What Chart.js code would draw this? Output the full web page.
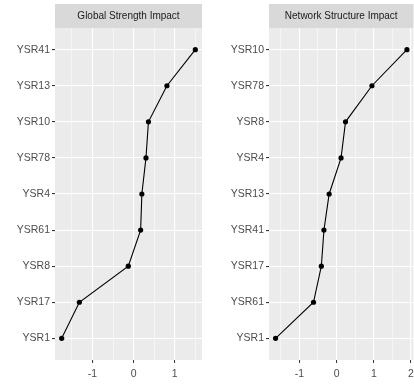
<!DOCTYPE html>
<html>
<head>
<meta charset="utf-8">
<script src="https://cdn.jsdelivr.net/npm/chart.js@4/dist/chart.umd.min.js"></script>
<style>
  html, body { margin: 0; padding: 0; background: #fff; overflow: hidden; width: 414px; height: 386px; }
  canvas { position: absolute; top: 0; }
  #gs { left: 0; }
  #ns { left: 207px; }
</style>
</head>
<body>
<canvas id="gs" width="206" height="386"></canvas>
<canvas id="ns" width="212" height="386"></canvas>
<script>
// categories listed bottom -> top
const gsLabels = ["YSR1", "YSR17", "YSR8", "YSR61", "YSR4", "YSR78", "YSR10", "YSR13", "YSR41"];
const gsValues = [-1.75, -1.32, -0.13, 0.17, 0.20, 0.30, 0.36, 0.81, 1.50];

const nsLabels = ["YSR1", "YSR61", "YSR17", "YSR41", "YSR13", "YSR4", "YSR8", "YSR78", "YSR10"];
const nsValues = [-1.64, -0.62, -0.41, -0.34, -0.20, 0.12, 0.24, 0.95, 1.89];

Chart.defaults.font.family = "'Liberation Sans', Arial, sans-serif";
Chart.defaults.font.size = 10.5;

// grey panel + facet strip, ggplot style
const panelPlugin = {
  id: "panel",
  beforeDraw(chart) {
    const { ctx, chartArea: a } = chart;
    ctx.save();
    ctx.fillStyle = "#EBEBEB";
    ctx.fillRect(a.left, a.top, a.right - a.left, a.bottom - a.top);
    ctx.restore();
  },
  afterDraw(chart, args, opts) {
    const { ctx, chartArea: a } = chart;
    ctx.save();
    ctx.fillStyle = "#D9D9D9";
    ctx.fillRect(a.left, 4, a.right - a.left, 24);
    ctx.fillStyle = "#1A1A1A";
    ctx.font = "10px 'Liberation Sans', Arial, sans-serif";
    ctx.textAlign = "center";
    ctx.textBaseline = "middle";
    ctx.fillText(opts.title, (a.left + a.right) / 2, 16.5);
    ctx.restore();
  }
};

function isInt(v) { return Math.abs(v - Math.round(v)) < 1e-6; }

function makePlot(id, title, labels, values, yWidth) {
  const lo = Math.min(...values), hi = Math.max(...values);
  const pad = (hi - lo) * 0.05;
  const xmin = lo - pad, xmax = hi + pad;

  new Chart(document.getElementById(id), {
    type: "line",
    data: {
      datasets: [{
        data: values.map((v, i) => ({ x: v, y: i })),
        borderColor: "#000",
        borderWidth: 1.1,
        pointRadius: 2.6,
        pointBackgroundColor: "#000",
        pointBorderWidth: 0,
        tension: 0
      }]
    },
    options: {
      responsive: false,
      animation: false,
      layout: { padding: { top: 28, right: 3, left: 0, bottom: 0 } },
      plugins: {
        legend: { display: false },
        tooltip: { enabled: false },
        panel: { title }
      },
      scales: {
        x: {
          type: "linear",
          min: xmin,
          max: xmax,
          afterBuildTicks: s => {
            const t = [];
            for (let v = Math.ceil(xmin * 2) / 2; v <= xmax; v += 0.5) t.push({ value: v });
            s.ticks = t;
          },
          afterFit: s => { s.height = 26; },
          border: { display: false },
          grid: {
            color: "#FFFFFF",
            lineWidth: c => (c.tick && isInt(c.tick.value) ? 1.1 : 0.5),
            tickColor: c => (c.tick && isInt(c.tick.value) ? "#333333" : "rgba(0,0,0,0)"),
            tickWidth: 1,
            tickLength: 3
          },
          ticks: {
            autoSkip: false,
            maxRotation: 0,
            color: "#4D4D4D",
            padding: 5,
            callback: v => (isInt(v) ? String(Math.round(v)) : "")
          }
        },
        y: {
          type: "linear",
          min: -0.6,
          max: labels.length - 0.4,
          afterBuildTicks: s => { s.ticks = labels.map((_, i) => ({ value: i })); },
          afterFit: s => { s.width = yWidth; },
          border: { display: false },
          grid: {
            color: "#FFFFFF",
            lineWidth: 1.1,
            tickColor: "#333333",
            tickLength: 3
          },
          ticks: {
            autoSkip: false,
            color: "#4D4D4D",
            padding: 2,
            callback: v => labels[Math.round(v)]
          }
        }
      }
    },
    plugins: [panelPlugin]
  });
}

makePlot("gs", "Global Strength Impact", gsLabels, gsValues, 55);
makePlot("ns", "Network Structure Impact", nsLabels, nsValues, 62);
</script>
</body>
</html>
